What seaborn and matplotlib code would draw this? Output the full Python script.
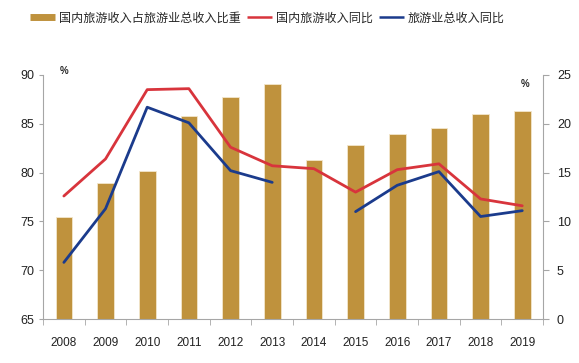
import numpy as np
import pandas as pd
import seaborn as sns
import matplotlib.pyplot as plt
from matplotlib.lines import Line2D
from matplotlib.ticker import FixedLocator

# data
years = ['2008', '2009', '2010', '2011', '2012', '2013',
         '2014', '2015', '2016', '2017', '2018', '2019']
share = [75.4, 78.9, 80.2, 85.8, 87.7, 89.1, 81.3, 82.8, 84.0, 84.6, 86.0, 86.3]
domestic_yoy = [12.6, 16.4, 23.5, 23.6, 17.6, 15.7, 15.4, 13.0, 15.3, 15.9, 12.3, 11.6]
total_yoy = [5.8, 11.3, 21.7, 20.1, 15.2, 14.0, np.nan, 11.0, 13.7, 15.1, 10.5, 11.1]

labels = ['国内旅游收入占旅游业总收入比重', '国内旅游收入同比', '旅游业总收入同比']
bar_color = '#BF923D'
red = '#D8343C'
blue = '#1B3B8C'

df = pd.DataFrame({'year': years, 'share': share,
                   'dom': domestic_yoy, 'tot': total_yoy})
df['seg'] = df['tot'].isna().cumsum()

sns.set_style('white')
plt.rcParams['font.family'] = ['Liberation Sans', 'Noto Sans CJK SC', 'DejaVu Sans']

fig = plt.figure(figsize=(5.79, 3.63), dpi=100)
ax = fig.add_axes([0.0743, 0.1212, 0.8637, 0.6722])

sns.barplot(data=df, x='year', y='share', color=bar_color, width=0.4,
            saturation=1, edgecolor='#F3E6CC', linewidth=0.6, ax=ax)
ax.set_ylim(65, 90)
ax.set_yticks([65, 70, 75, 80, 85, 90])
ax.set_xlim(-0.5, len(years) - 0.5)
ax.set_xlabel('')
ax.set_ylabel('')

ax2 = ax.twinx()
sns.lineplot(data=df, x='year', y='dom', color=red, linewidth=2, ax=ax2)
sns.lineplot(data=df.dropna(), x='year', y='tot', units='seg', estimator=None,
             color=blue, linewidth=2, ax=ax2)
ax2.set_ylim(0, 25)
ax2.set_yticks([0, 5, 10, 15, 20, 25])
ax2.set_xlim(-0.5, len(years) - 0.5)
ax2.set_ylabel('')
ax2.set_xlabel('')

spine_c = '#A6A6A6'
for a in (ax, ax2):
    a.spines['top'].set_visible(False)
    for s in ('left', 'right', 'bottom'):
        a.spines[s].set_color(spine_c)
        a.spines[s].set_linewidth(0.8)
ax.spines['right'].set_visible(False)
ax2.spines['left'].set_visible(False)
ax2.spines['bottom'].set_visible(False)

ax.tick_params(axis='x', which='major', length=0, pad=13, labelsize=8.5, colors='#222222')
ax.xaxis.set_minor_locator(FixedLocator(np.arange(-0.5, len(years), 1.0)))
ax.tick_params(axis='x', which='minor', length=4, color=spine_c, bottom=True)
ax.tick_params(axis='y', length=3, color=spine_c, labelsize=9, labelcolor='#222222', left=True)
ax2.tick_params(axis='y', length=4, color=spine_c, labelsize=9, labelcolor='#222222', right=True, pad=6)

ax.text(0.033, 1.015, '%', transform=ax.transAxes, fontsize=7, fontweight='bold', va='center', ha='left')
ax.text(0.955, 0.985, '%', transform=ax.transAxes, fontsize=7, fontweight='bold', va='top', ha='left')

handles = [Line2D([], [], color=bar_color, linewidth=5, solid_capstyle='butt'),
           Line2D([], [], color=red, linewidth=1.8, solid_capstyle='butt'),
           Line2D([], [], color=blue, linewidth=1.8, solid_capstyle='butt')]
fig.legend(handles, labels, loc='center', bbox_to_anchor=(0.462, 0.95), ncol=3,
           frameon=False, fontsize=8.7, handlelength=2.1, handletextpad=0.3,
           columnspacing=0.5, prop={'family': ['Noto Sans CJK SC', 'DejaVu Sans'], 'size': 8.7})

fig.savefig('out.png', dpi=100)
